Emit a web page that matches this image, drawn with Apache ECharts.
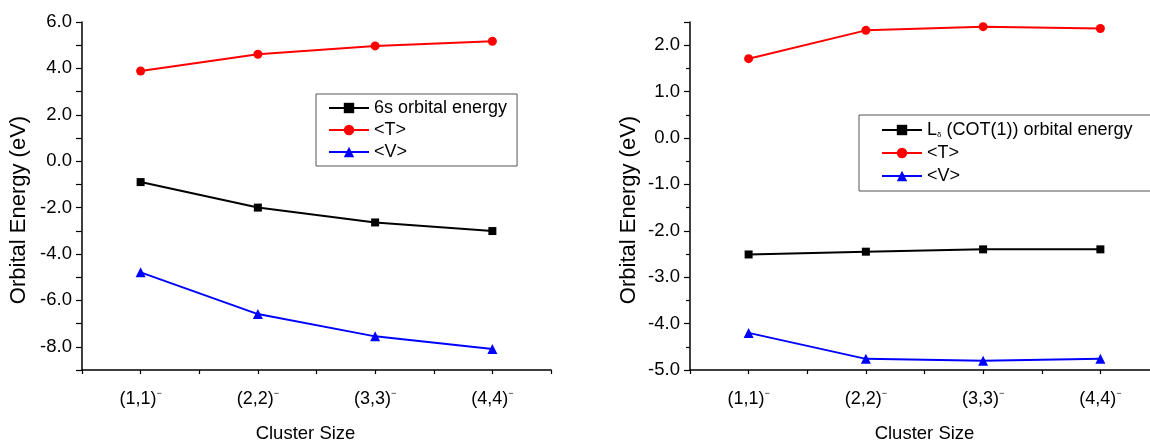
<!DOCTYPE html>
<html>
<head>
<meta charset="utf-8">
<script src="https://cdn.jsdelivr.net/npm/echarts@6.0.0/dist/echarts.min.js"></script>
<style>
  html, body { margin: 0; padding: 0; background: #fff; }
  #chart { width: 1150px; height: 441px; }
</style>
</head>
<body>
<div id="chart"></div>
<script>
// cluster sizes on the x axis (each gets a superscript minus)
var categories = ['(1,1)', '(2,2)', '(3,3)', '(4,4)'];

// left panel: 6s orbital
var leftOrbital = [-0.90, -2.00, -2.64, -3.01];
var leftT = [3.89, 4.61, 4.97, 5.17];
var leftV = [-4.79, -6.59, -7.55, -8.09];

// right panel: L_delta (COT(1)) orbital
var rightOrbital = [-2.51, -2.45, -2.40, -2.40];
var rightT = [1.71, 2.32, 2.40, 2.36];
var rightV = [-4.20, -4.76, -4.80, -4.76];

var FONT = 'Liberation Sans';

function pairs(arr) {
  return arr.map(function (v, i) { return [i + 1, v]; });
}

function xAxisFor(idx) {
  return {
    type: 'value',
    gridIndex: idx,
    min: 0.5,
    max: 4.5,
    interval: 0.5,
    splitLine: { show: false },
    axisLine: { onZero: false, lineStyle: { color: '#000', width: 1.5 } },
    axisTick: { inside: false, length: 4, lineStyle: { color: '#000', width: 1.2 } },
    axisLabel: {
      margin: 19,
      color: '#000',
      fontFamily: FONT,
      fontSize: 18,
      formatter: function (v) {
        if (Math.abs(v - Math.round(v)) > 1e-6) return '';
        var c = categories[Math.round(v) - 1];
        return c ? '{a|' + c + '}{s|−}' : '';
      },
      rich: {
        a: { fontFamily: FONT, fontSize: 18, color: '#000' },
        s: { fontFamily: FONT, fontSize: 9, color: '#000', padding: [0, 0, 12, 0] }
      }
    },
    name: 'Cluster Size',
    nameLocation: 'middle',
    nameGap: 54,
    nameTextStyle: { fontFamily: FONT, fontSize: 18.5, color: '#000',
      padding: idx === 0 ? [0, 22, 0, 0] : 0 }
  };
}

function yAxisFor(idx, min, max, interval, minor) {
  var ax = {
    type: 'value',
    gridIndex: idx,
    min: min,
    max: max,
    interval: interval,
    splitLine: { show: false },
    axisLine: { show: true, onZero: false, lineStyle: { color: '#000', width: 1.5 } },
    axisTick: { show: true, inside: false, length: 6, lineStyle: { color: '#000', width: 1.2 } },
    axisLabel: {
      margin: 10,
      color: '#000',
      fontFamily: FONT,
      fontSize: 18.5,
      formatter: function (v) {
        if (idx === 0 && Math.round(v) % 2 !== 0) return '';
        if (Math.abs(v - Math.round(v)) > 1e-6) return '';
        return v.toFixed(1);
      }
    },
    name: 'Orbital Energy (eV)',
    nameLocation: 'middle',
    nameGap: idx === 0 ? 52 : 50,
    nameTextStyle: { fontFamily: FONT, fontSize: 22, color: '#000', padding: [0, 28, 0, 0] }
  };
  if (minor) {
    ax.minorTick = { show: true, splitNumber: 2, length: 4, lineStyle: { color: '#000', width: 1.2 } };
  }
  return ax;
}

function lineSeries(name, data, color, symbol, size, idx) {
  return {
    name: name,
    type: 'line',
    xAxisIndex: idx,
    yAxisIndex: idx,
    data: pairs(data),
    symbol: symbol,
    symbolSize: size,
    color: color,
    itemStyle: { color: color },
    lineStyle: { color: color, width: 2 },
    animation: false
  };
}

var chart = echarts.init(document.getElementById('chart'));

var option = {
  backgroundColor: '#fff',
  animation: false,
  grid: [
    { left: 82, top: 22, width: 469, height: 348, containLabel: false, outerBoundsMode: 'none' },
    { left: 690, top: 22, width: 469, height: 348, containLabel: false, outerBoundsMode: 'none' }
  ],
  xAxis: [xAxisFor(0), xAxisFor(1)],
  yAxis: [
    yAxisFor(0, -9, 6, 1, false),
    yAxisFor(1, -5, 2.5, 1, true)
  ],
  legend: [
    {
      data: ['6s orbital energy', '<T>', '<V>'],
      orient: 'vertical',
      left: 316,
      top: 94,
      padding: [5, 10, 5, 12],
      itemGap: 4,
      itemWidth: 40,
      itemHeight: 13,
      borderColor: '#555',
      borderWidth: 1,
      textStyle: { fontFamily: FONT, fontSize: 18, color: '#000' }
    },
    {
      data: ['Lδ (COT(1)) orbital energy', '<T>', '<V>'],
      orient: 'vertical',
      left: 859,
      top: 115,
      padding: [6, 30, 6, 22],
      itemGap: 5,
      itemWidth: 40,
      itemHeight: 13,
      borderColor: '#555',
      borderWidth: 1,
      formatter: function (name) {
        if (name.indexOf('Lδ') === 0) {
          return '{a|L}{s|δ}{a|' + name.slice(2) + '}';
        }
        return name;
      },
      textStyle: {
        fontFamily: FONT, fontSize: 18, color: '#000',
        rich: {
          a: { fontFamily: FONT, fontSize: 18, color: '#000' },
          s: { fontFamily: FONT, fontSize: 8, color: '#000', padding: [9, 0, 0, 0] }
        }
      }
    }
  ],
  series: [
    lineSeries('6s orbital energy', leftOrbital, '#000000', 'rect', 8, 0),
    lineSeries('<T>', leftT, '#ff0000', 'circle', 9, 0),
    lineSeries('<V>', leftV, '#0000ff', 'triangle', 10, 0),
    lineSeries('Lδ (COT(1)) orbital energy', rightOrbital, '#000000', 'rect', 8, 1),
    lineSeries('<T>', rightT, '#ff0000', 'circle', 9, 1),
    lineSeries('<V>', rightV, '#0000ff', 'triangle', 10, 1)
  ]
};

chart.setOption(option);
</script>
</body>
</html>
